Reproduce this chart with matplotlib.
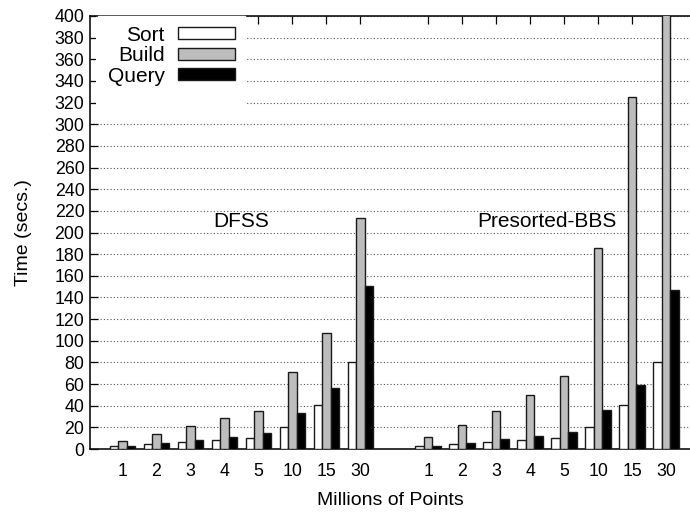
import matplotlib
matplotlib.use("Agg")
import matplotlib.pyplot as plt
from matplotlib.patches import Rectangle
import numpy as np

# Point counts (millions) shown under each cluster
point_labels = ["1", "2", "3", "4", "5", "10", "15", "30"]

# DFSS timings (seconds)
dfss_sort = [2.5, 4.3, 6.5, 8.3, 10.5, 20.5, 40.5, 80.5]
dfss_build = [7.1, 14.2, 21.6, 28.5, 35.5, 71, 107, 213]
dfss_query = [3.0, 5.2, 8.0, 11.5, 14.5, 33, 56.5, 151]

# Presorted-BBS timings (seconds)
bbs_sort = [2.5, 4.3, 6.5, 8.3, 10.5, 20.5, 40.5, 80.5]
bbs_build = [11.5, 22, 35.5, 50, 67, 186, 325, 640]
bbs_query = [3.0, 5.2, 9.0, 11.7, 15.7, 36, 59, 147]

series_names = ["Sort", "Build", "Query"]
fills = ["white", "#bdbdbd", "black"]
edge = "#1a1a1a"

plt.rcParams["font.family"] = ["Liberation Sans", "DejaVu Sans"]
TICK_FS = 12.8
FS = 15
LABEL_FS = 14

fig = plt.figure(figsize=(6.9, 5.13), dpi=100)
ax = fig.add_axes([90 / 690, 64 / 513, 600 / 690, 433 / 513])

left_pos = np.arange(8)
right_pos = np.arange(8) + 9
w = 0.25

groups = [
    (left_pos, [dfss_sort, dfss_build, dfss_query]),
    (right_pos, [bbs_sort, bbs_build, bbs_query]),
]
handles = []
for pos, vals in groups:
    for k, (v, c) in enumerate(zip(vals, fills)):
        b = ax.bar(pos + (k - 1) * w, v, width=w, color=c, edgecolor=edge,
                   linewidth=1.0, zorder=3)
        if len(handles) < 3:
            handles.append(b)

ax.set_xlim(-0.95, 16.70)
ax.set_ylim(0, 400)
ax.set_yticks(np.arange(0, 401, 20))
ax.set_xticks(np.concatenate([left_pos, right_pos]))
ax.set_xticklabels(point_labels + point_labels)

ax.yaxis.grid(True, linestyle=(0, (1, 2)), color="#555555", linewidth=0.8, zorder=0)
ax.set_axisbelow(True)

ax.tick_params(axis="both", direction="in", length=6, width=0.9,
               labelsize=TICK_FS, colors="black")
ax.tick_params(axis="x", top=True, bottom=True, pad=10)
ax.tick_params(axis="y", left=True, right=False, pad=4)

for s in ["left", "bottom", "top"]:
    ax.spines[s].set_linewidth(1.2)
    ax.spines[s].set_color("#111111")
ax.spines["right"].set_visible(False)

ax.text(3.5, 210, "DFSS", ha="center", va="center", fontsize=FS, zorder=4)
ax.text(12.5, 210, "Presorted-BBS", ha="center", va="center", fontsize=FS, zorder=4)

ax.set_xlabel("Millions of Points", fontsize=LABEL_FS, labelpad=9)
ax.set_ylabel("Time (secs.)", fontsize=LABEL_FS, labelpad=16)

# opaque key area
key_w = 155 / 600
ax.add_patch(Rectangle((6 / 600, 1 - 94 / 433), key_w - 6 / 600, 94 / 433,
                       transform=ax.transAxes, facecolor="white",
                       edgecolor="none", zorder=2.5))

leg = ax.legend(handles, series_names, loc="upper right",
                bbox_to_anchor=(key_w, 1.0), markerfirst=False,
                fontsize=FS, frameon=True, fancybox=False, framealpha=1,
                edgecolor="white", facecolor="white", handlelength=2.74,
                handleheight=0.51, handletextpad=0.66, labelspacing=0.07,
                borderpad=0.46, borderaxespad=0.0)
leg.set_zorder(5)

fig.savefig("out.png", dpi=100)
